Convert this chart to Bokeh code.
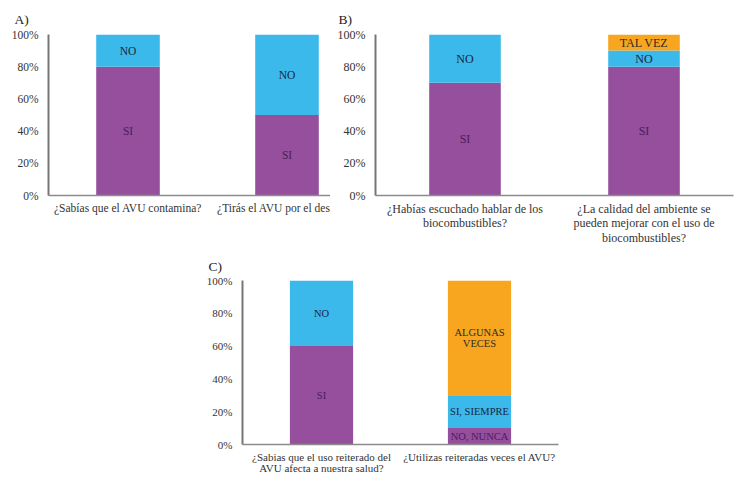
from bokeh.plotting import figure
from bokeh.models import (ColumnDataSource, Range1d, FixedTicker, NumeralTickFormatter, Spacer)
from bokeh.layouts import row, column
from bokeh.core.properties import value
from bokeh.embed import file_html
from bokeh.resources import INLINE

# ---------------- data ----------------
# (the second question of panel A is cut off in the original figure)
questions_a = ["¿Sabías que el AVU contamina?", "¿Tirás el AVU por el des"]
si_a = [0.8, 0.5]
no_a = [0.2, 0.5]

questions_b = ["¿Habías escuchado hablar de los\nbiocombustibles?",
               "¿La calidad del ambiente se\npueden mejorar con el uso de\nbiocombustibles?"]
si_b = [0.7, 0.8]
no_b = [0.3, 0.1]
talvez_b = [0.0, 0.1]

questions_c = ["¿Sabias que el uso reiterado del\nAVU afecta a nuestra salud?",
               "¿Utilizas reiteradas veces el AVU?"]
bottom_c = [0.6, 0.1]     # SI / NO, NUNCA
middle_c = [0.4, 0.2]     # NO / SI, SIEMPRE
top_c = [0.0, 0.7]        # - / ALGUNAS VECES
labels_c_bottom = ["SI", "NO, NUNCA"]
labels_c_middle = ["NO", "SI, SIEMPRE"]
labels_c_top = ["", "ALGUNAS\nVECES"]

y_ticks = [0, 0.2, 0.4, 0.6, 0.8, 1.0]

PURPLE = "#954F9C"
BLUE = "#3BB9EA"
ORANGE = "#F8A51F"
TXT_ON = {PURPLE: "#4A1D5C", BLUE: "#1C2541", ORANGE: "#2B2B2B"}
FONT = "Liberation Serif"


def make_panel(title, cats, series, names, colors, width, height, xmax,
               mb_left, mb_top, mb_bottom, mb_right, title_offset, title_standoff,
               xlab_standoff, fs_axis, fs_bar, xlab_lh, bar_lh):
    p = figure(width=width, height=height, output_backend="svg", toolbar_location=None,
               x_range=Range1d(0.5, xmax), y_range=Range1d(0, 1),
               min_border_left=mb_left, min_border_top=mb_top,
               min_border_bottom=mb_bottom, min_border_right=mb_right)
    p.outline_line_color = None
    p.grid.visible = False
    xs = [1, 2]
    data = {"x": xs}
    keys = []
    for i, s in enumerate(series):
        k = "s%d" % i
        data[k] = s
        keys.append(k)
    src = ColumnDataSource(data)
    p.vbar_stack(keys, x="x", width=0.4, color=colors, line_color=None, source=src)

    lx, ly, lt, lc = [], [], [], []
    for j in range(len(xs)):
        base = 0.0
        for i, s in enumerate(series):
            v = s[j]
            if v > 0 and names[i][j]:
                lx.append(xs[j])
                ly.append(base + v / 2)
                lt.append(names[i][j])
                lc.append(TXT_ON[colors[i]])
            base += v
    lsrc = ColumnDataSource(dict(x=lx, y=ly, t=lt, c=lc))
    p.text(x="x", y="y", text="t", text_color="c", source=lsrc,
           text_align="center", text_baseline="middle",
           text_font=value(FONT), text_font_size=fs_bar, text_line_height=bar_lh)

    ya = p.yaxis[0]
    ya.ticker = FixedTicker(ticks=y_ticks)
    ya.formatter = NumeralTickFormatter(format="0%")
    ya.major_tick_line_color = None
    ya.minor_tick_line_color = None
    ya.major_tick_out = 0
    ya.major_tick_in = 0
    ya.axis_line_color = "#767676"
    ya.axis_line_width = 2
    ya.major_label_text_font = FONT
    ya.major_label_text_font_size = fs_axis
    ya.major_label_text_color = "#333333"
    ya.major_label_standoff = 10

    xa = p.xaxis[0]
    xa.ticker = FixedTicker(ticks=xs)
    xa.major_label_overrides = {1: cats[0], 2: cats[1]}
    xa.major_tick_line_color = None
    xa.minor_tick_line_color = None
    xa.major_tick_out = 0
    xa.major_tick_in = 0
    xa.axis_line_color = "#8C8C8C"
    xa.axis_line_width = 1.5
    xa.major_label_text_font = FONT
    xa.major_label_text_font_size = fs_axis
    xa.major_label_text_color = "#333333"
    xa.major_label_standoff = xlab_standoff
    xa.major_label_text_line_height = xlab_lh

    p.title.text = title
    p.title.text_font = FONT
    p.title.text_font_size = "13.5px"
    p.title.text_font_style = "normal"
    p.title.text_color = "#222222"
    p.title.align = "left"
    p.title.offset = title_offset
    p.title.standoff = title_standoff
    return p


pA = make_panel("A)", questions_a, [si_a, no_a],
                [["SI", "SI"], ["NO", "NO"]], [PURPLE, BLUE],
                width=330, height=248, xmax=0.5 + 282 / 159,
                mb_left=48, mb_top=34, mb_bottom=52, mb_right=0,
                title_offset=-34, title_standoff=16, xlab_standoff=6,
                fs_axis="11.5px", fs_bar="11.5px", xlab_lh=1.07, bar_lh=1.0)

pB = make_panel("B)", questions_b, [si_b, no_b, talvez_b],
                [["SI", "SI"], ["NO", "NO"], ["TAL VEZ", "TAL VEZ"]], [PURPLE, BLUE, ORANGE],
                width=407, height=248, xmax=2.5,
                mb_left=45, mb_top=34, mb_bottom=52, mb_right=4,
                title_offset=-37, title_standoff=16, xlab_standoff=6,
                fs_axis="12px", fs_bar="12px", xlab_lh=1.07, bar_lh=1.0)

pC = make_panel("C)", questions_c, [bottom_c, middle_c, top_c],
                [labels_c_bottom, labels_c_middle, labels_c_top], [PURPLE, BLUE, ORANGE],
                width=372, height=229, xmax=2.5,
                mb_left=46, mb_top=32, mb_bottom=33, mb_right=10,
                title_offset=-34, title_standoff=14, xlab_standoff=6,
                fs_axis="11px", fs_bar="10.5px", xlab_lh=0.93, bar_lh=0.95)

layout = column(row(pA, pB), row(Spacer(width=196, height=229), pC))

open("out.html", "w").write(file_html(layout, INLINE))
